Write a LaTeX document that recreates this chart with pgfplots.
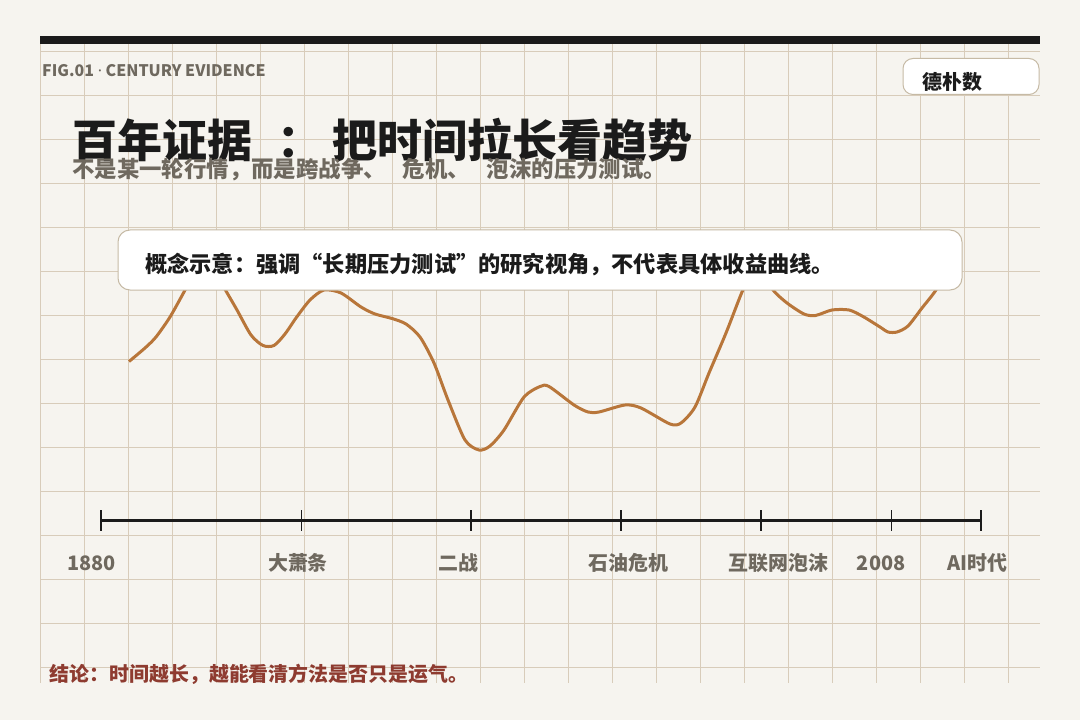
\documentclass[border=0pt]{standalone}
\usepackage{pgfplots}
\pgfplotsset{compat=1.18}
\usepackage{fontspec}
\setmainfont{Noto Sans CJK SC}
\newfontfamily\latinfont{Noto Sans}
\definecolor{bg}{HTML}{F6F4EF}
\definecolor{gridc}{HTML}{D8CCBA}
\definecolor{ink}{HTML}{1B1B1B}
\definecolor{muted}{HTML}{6F695F}
\definecolor{copper}{HTML}{B8763A}
\definecolor{boxline}{HTML}{C6BAA5}
\definecolor{concl}{HTML}{8E3B30}
\begin{document}
\begin{tikzpicture}[x=1bp,y=1bp]
\fill[bg] (0,0) rectangle (1080,720);
\foreach \k in {0,...,22} { \draw[gridc, line width=1bp] ({40+44*\k},{720-44}) -- ({40+44*\k},{720-683}); }
\foreach \k in {0,...,14} { \draw[gridc, line width=1bp] (40,{720-52-44*\k}) -- (1040,{720-52-44*\k}); }
\fill[ink] (40,{720-36}) rectangle (1040,{720-44});
\begin{axis}[at={(0,0)},anchor=south west,width=1080bp,height=720bp,scale only axis,
  xmin=0,xmax=1080,ymin=0,ymax=720,y dir=reverse,hide axis,clip=false]
\addplot[copper, line width=3bp, smooth, tension=0.45, line join=round] coordinates {
(129,361.5) (145,348) (156,337) (170,317) (184,292) (195,272) (205,265) (215,272) (226,291)
(237,310) (251,335) (263,345.5) (274,345.5) (285,334) (296,318) (310,300) (324,290) (341,293)
(361,307) (375,314) (392,318.5) (406,324) (420,337) (434,363) (448,400) (465,440) (479,450)
(490,446) (504,430) (524,397) (540,386.5) (549,386.5) (574,405) (588,412) (599,412) (625,405)
(641,408) (670,424) (681,423) (695,407) (709,373) (726,333) (742,292) (752,272) (760,268)
(768,276) (773,290) (787,303) (804,314) (815.5,315.5) (832,310) (849,310) (863,316.5) (880,327)
(888,332) (897,332) (908,326) (922,308) (936,290) (946,270) (955,255)
};
\addplot[ink, line width=2.5bp] coordinates {(100.6,520.7) (980.7,520.7)};
\addplot[ink, only marks, mark=|, mark size=10.4bp, mark options={line width=1.8bp}] coordinates {
(100.6,520.7) (301.5,520.7) (471.1,520.7) (621,520.7) (761.3,520.7) (891.4,520.7) (980.7,520.7)};
% annotation box
\draw[boxline, fill=white, rounded corners=12bp, line width=1bp] (118,230) rectangle (962,290);
\node[anchor=base west, inner sep=0, text=ink, font=\fontsize{22.3}{24}\selectfont\bfseries] at (145,272.5) {概念示意：强调“长期压力测试”的研究视角，不代表具体收益曲线。};
% brand box
\draw[boxline, fill=white, rounded corners=10bp, line width=1bp] (903,58.5) rectangle (1039,94.5);
\node[anchor=base west, inner sep=0, text=ink, font=\fontsize{20}{22}\selectfont\bfseries] at (922.5,89.5) {德朴数};
% header
\node[anchor=base west, inner sep=0, text=muted, font=\fontsize{16}{18}\selectfont\bfseries] at (42,77) {FIG.01 {\latinfont\bfseries ·} CENTURY EVIDENCE};
\node[anchor=base west, inner sep=0, text=ink, font=\fontsize{45.2}{50}\selectfont\bfseries] at (72.5,157.5) {百年证据\kern0.55em：\kern0.22em把时间拉长看趋势};
\node[anchor=base west, inner sep=0, text=muted, font=\fontsize{22.5}{25}\selectfont\bfseries] at (72,178) {不是某一轮行情，而是跨战争、\kern0.75em危机、\kern0.75em泡沫的压力测试。};
% timeline labels
\foreach \lx/\lt in {91.7/1880, 298/大萧条, 458.7/二战, 628.3/石油危机, 778.2/互联网泡沫, 881.2/2008, 977.2/AI时代}{
  \edef\tmp{\noexpand\node[anchor=base, inner sep=0, text=muted, font=\noexpand\fontsize{20}{22}\noexpand\selectfont\noexpand\bfseries] at (\lx,570.5) {\lt};}
  \tmp
}
% conclusion
\node[anchor=base west, inner sep=0, text=concl, font=\fontsize{20}{22}\selectfont\bfseries] at (49.5,681) {结论：时间越长，越能看清方法是否只是运气。};
\end{axis}
\end{tikzpicture}
\end{document}
